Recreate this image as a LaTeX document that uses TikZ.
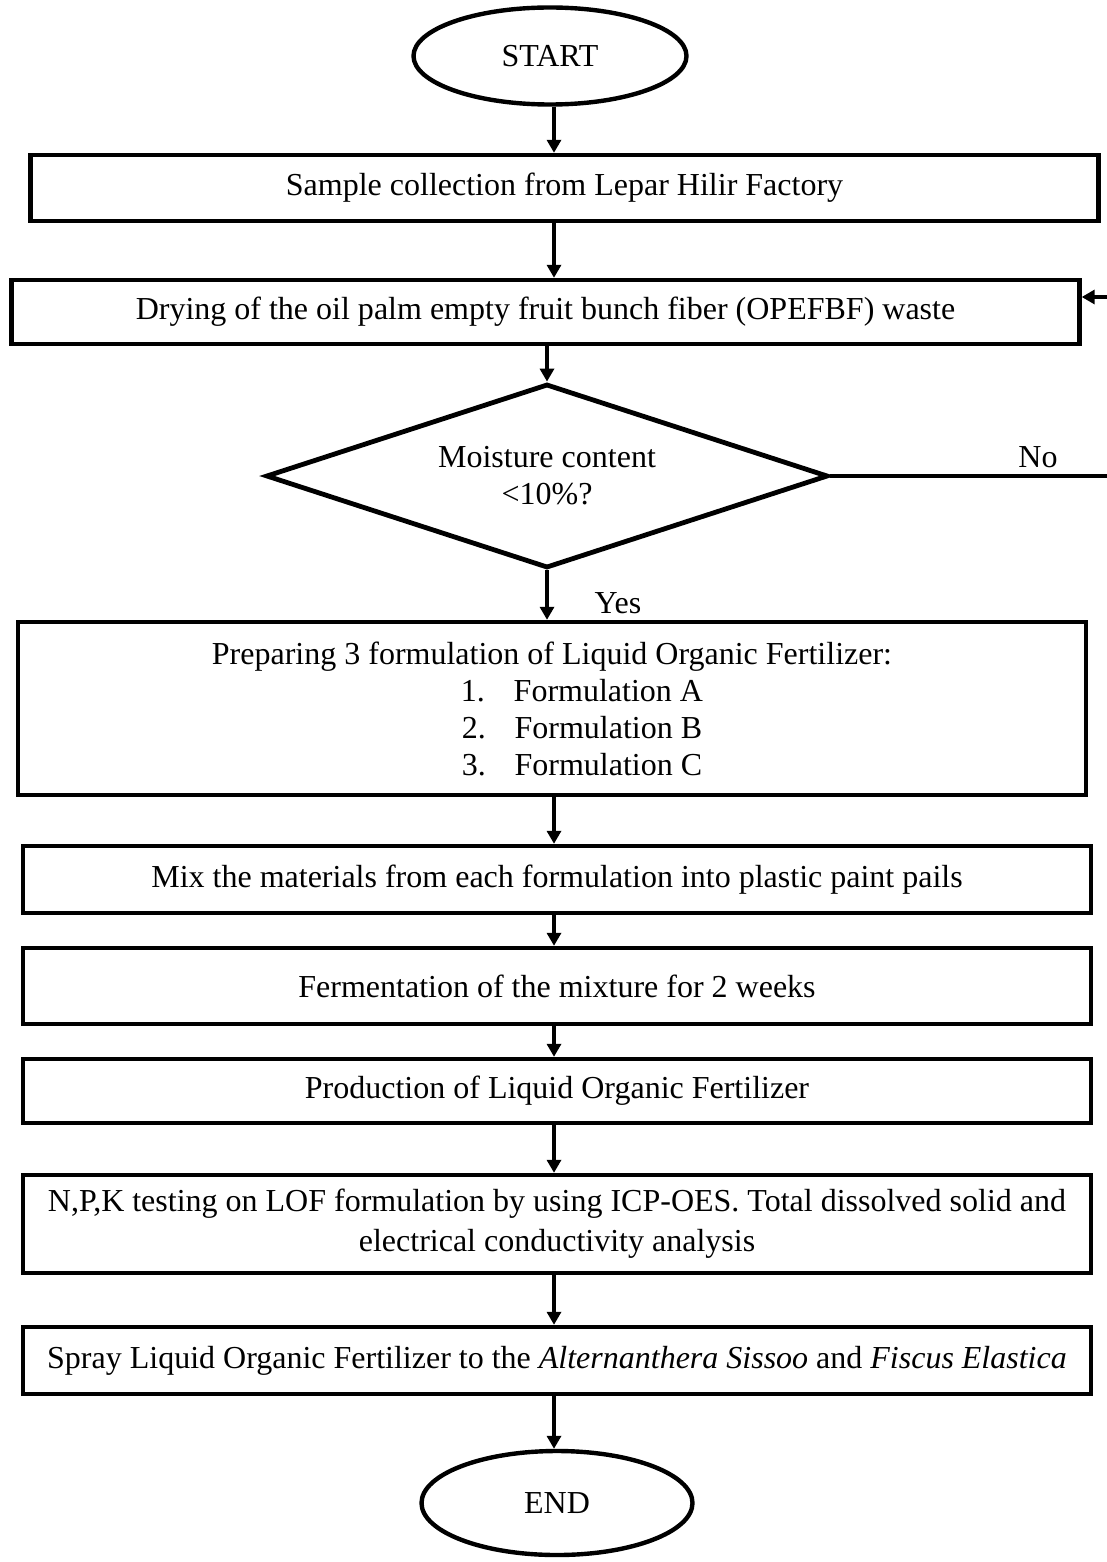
\documentclass[tikz,border=0pt]{standalone}
\usepackage{fontspec}
\setmainfont{Liberation Serif}
\usetikzlibrary{shapes.geometric,arrows.meta}

\begin{document}
\begin{tikzpicture}[x=0.5pt, y=-0.5pt, font=\fontsize{16}{18.5}\selectfont,
  box/.style={draw=black, line width=2.2pt, rectangle, inner sep=0pt, align=center, minimum width=534pt},
  term/.style={draw=black, line width=2.2pt, ellipse, inner sep=0pt},
  ask/.style={draw=black, line width=2.4pt, diamond, aspect=3, inner sep=0pt, align=center},
  arr/.style={-{Triangle[length=6.5pt,width=7pt]}, line width=1.8pt, draw=black}]
\useasboundingbox (0,0) rectangle (1107,1562);
\clip (0,0) rectangle (1107,1562);
\node[term, minimum width=136.5pt, minimum height=48.5pt] (S) at (550,56) {START};
\node[box, minimum height=33pt] (1) at (564.5,188) {Sample collection from Lepar Hilir Factory};
\node[box, minimum height=32pt] (2) at (545.5,312) {Drying of the oil palm empty fruit bunch fiber (OPEFBF) waste};
\node[ask, minimum width=281pt, minimum height=92pt] (D) at (547,476) {Moisture content\\<10\%?};
\node[box, minimum height=86.5pt] (3) at (552,708.5) {Preparing 3 formulation of Liquid Organic Fertilizer:\\
  \hspace*{30pt}1.\hspace{0.9em}Formulation A\\ \hspace*{30pt}2.\hspace{0.9em}Formulation B\\ \hspace*{30pt}3.\hspace{0.9em}Formulation C};
\node[box, minimum height=33.5pt] (4) at (557,879.5) {Mix the materials from each formulation into plastic paint pails};
\node[box, minimum height=38pt] (5) at (557,986) {Fermentation of the mixture for 2 weeks};
\node[box, minimum height=32pt] (6) at (557,1091) {Production of Liquid Organic Fertilizer};
\node[box, minimum height=49pt, font=\fontsize{16}{20}\selectfont] (7) at (557,1224) {N,P,K testing on LOF formulation by using ICP-OES. Total dissolved solid and\\electrical conductivity analysis};
\node[box, minimum height=33.5pt] (8) at (557,1360.5) {Spray Liquid Organic Fertilizer to the \textit{Alternanthera Sissoo} and \textit{Fiscus Elastica}};
\node[term, minimum width=135.5pt, minimum height=52pt] (E) at (557,1503) {END};
\node (no) at (1038,457) {No};
\node (yes) at (618,603) {Yes};
\coordinate (ax) at (554,0);
\coordinate (back) at (1125,297);
\draw [arr] (ax |- S.south) -- (ax |- 1.north);
\draw [arr] (ax |- 1.south) -- (ax |- 2.north);
\draw [arr] (D.north |- 2.south) -- (D.north);
\draw [arr] (D.south) -- (D.south |- 3.north);
\draw [arr] (ax |- 3.south) -- (ax |- 4.north);
\draw [arr] (ax |- 4.south) -- (ax |- 5.north);
\draw [arr] (ax |- 5.south) -- (ax |- 6.north);
\draw [arr] (ax |- 6.south) -- (ax |- 7.north);
\draw [arr] (ax |- 7.south) -- (ax |- 8.north);
\draw [arr] (ax |- 8.south) -- (ax |- E.north);
\draw [arr] (D.east) -| (back) -- (back -| 2.east);
\end{tikzpicture}
\end{document}
